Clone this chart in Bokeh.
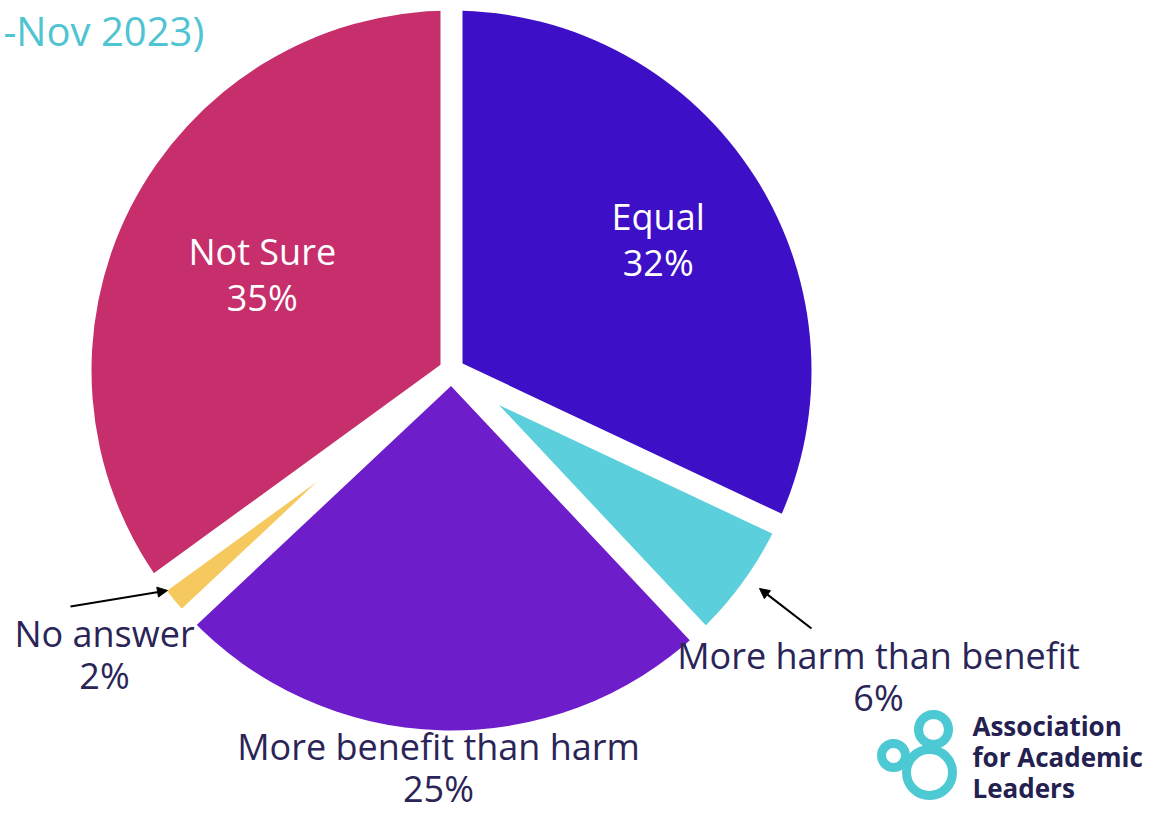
import math
from bokeh.plotting import figure
from bokeh.models import Range1d, Arrow, NormalHead
from bokeh.core.properties import value
from bokeh.embed import file_html
from bokeh.resources import INLINE

# ---- data ----
categories = ["Equal", "More harm than benefit", "More benefit than harm", "No answer", "Not Sure"]
percents = [32, 6, 25, 2, 35]
colors = ["#3D0FC6", "#5BCFDB", "#6D1DC9", "#F5C95E", "#C62F6C"]
title_text = "-Nov 2023)"
logo_lines = ["Association", "for Academic", "Leaders"]

W, H = 1151, 814
p = figure(width=W, height=H, output_backend="svg", toolbar_location=None,
           x_range=Range1d(0, W), y_range=Range1d(0, H), min_border=0)
p.axis.visible = False
p.grid.visible = False
p.outline_line_color = None
p.background_fill_color = "white"
p.border_fill_color = "white"

def Y(ys):
    return H - ys

cx, cy = 451, Y(370)
R = 360
gap = 22

cum = 0
starts, ends = [], []
for v in percents:
    a_end = math.radians(90 - cum * 3.6)
    cum += v
    a_start = math.radians(90 - cum * 3.6)
    starts.append(a_start)
    ends.append(a_end)

p.wedge(x=[cx] * len(percents), y=[cy] * len(percents), radius=R,
        start_angle=starts, end_angle=ends, fill_color=colors, line_color=None)

# white separators along slice boundaries
xs, ys = [], []
for a in ends:
    xs.append([cx, cx + (R + 20) * math.cos(a)])
    ys.append([cy, cy + (R + 20) * math.sin(a)])
p.multi_line(xs=xs, ys=ys, line_color="white", line_width=gap, line_cap="round")

FONT = value("Open Sans")
dark = "#2B2557"
FS = "36px"

# inside labels (white) for big slices
for i in [0, 4]:
    mid = (starts[i] + ends[i]) / 2
    r = 0.59 * R if i == 4 else 0.68 * R
    lx = cx + r * math.cos(mid)
    ly = cy + r * math.sin(mid)
    p.text(x=[lx, lx], y=[ly + 23, ly - 23],
           text=[categories[i], f"{percents[i]}%"],
           text_color="white", text_font=FONT, text_font_size=FS,
           text_align="center", text_baseline="middle")

# outside labels
outside = {1: (878, 655), 2: (438, 746), 3: (104, 633)}
for i, (lx, lys) in outside.items():
    p.text(x=[lx, lx], y=[Y(lys), Y(lys + 42)],
           text=[categories[i], f"{percents[i]}%"],
           text_color=dark, text_font=FONT, text_font_size=FS,
           text_align="center", text_baseline="middle")

# arrows
p.add_layout(Arrow(end=NormalHead(size=10, fill_color="black", line_color="black"),
                   x_start=70, y_start=Y(606), x_end=167, y_end=Y(590),
                   line_color="black", line_width=2.2))
p.add_layout(Arrow(end=NormalHead(size=10, fill_color="black", line_color="black"),
                   x_start=811, y_start=Y(628), x_end=759, y_end=Y(588),
                   line_color="black", line_width=2.2))

# title fragment
p.text(x=[3], y=[Y(2)], text=[title_text], text_color="#4FC4D2",
       text_font=FONT, text_font_size="40px",
       text_baseline="top", text_align="left")

# logo icon
logo_c = "#4CC9D3"
p.circle(x=[893], y=[Y(755)], radius=12, fill_color=None, line_color=logo_c, line_width=9)
p.circle(x=[933], y=[Y(729)], radius=15, fill_color=None, line_color=logo_c, line_width=9)
p.circle(x=[929], y=[Y(772)], radius=23, fill_color=None, line_color=logo_c, line_width=9)

for k, t in enumerate(logo_lines):
    p.text(x=[972], y=[Y(725 + 31 * k)], text=[t], text_color="#24204F",
           text_font=FONT, text_font_size="26px", text_font_style="bold",
           text_baseline="middle", text_align="left")

open("out.html", "w").write(file_html(p, INLINE))
